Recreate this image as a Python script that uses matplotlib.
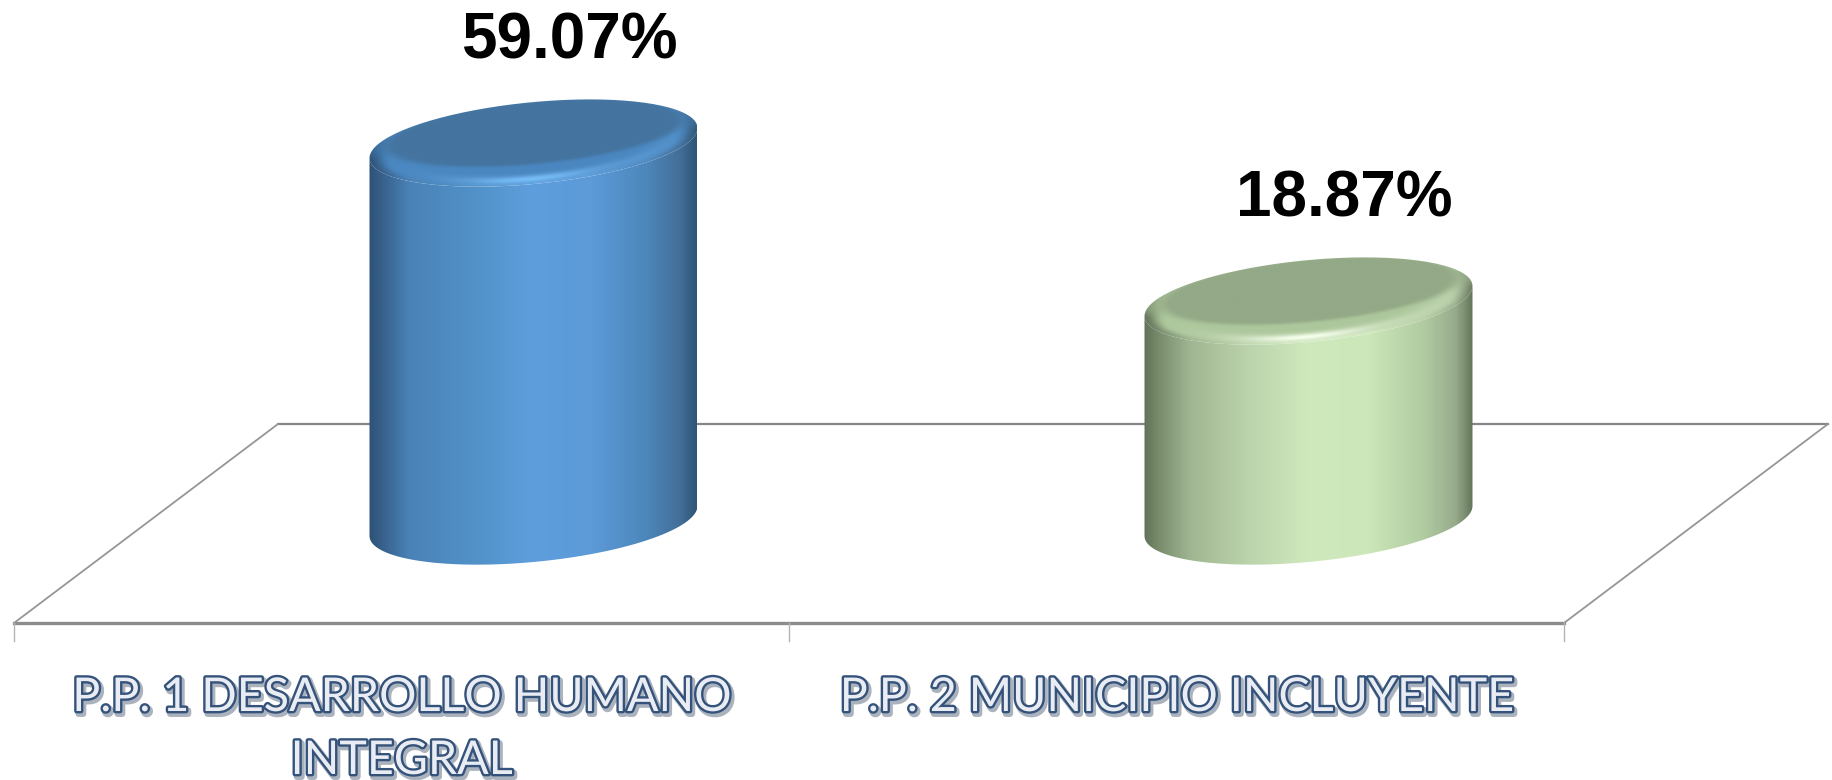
import numpy as np
import matplotlib
matplotlib.use('Agg')
import matplotlib.pyplot as plt
import matplotlib.patheffects as pe
from matplotlib.path import Path
from matplotlib.patches import PathPatch
from matplotlib.colors import LinearSegmentedColormap, to_rgb

# Data
categories = ['P.P. 1 DESARROLLO HUMANO\nINTEGRAL', 'P.P. 2 MUNICIPIO INCLUYENTE']
values = [59.07, 18.87]
value_labels = ['59.07%', '18.87%']

# Styles
side_colors = [
    [(0, '#2f5378'), (0.04, '#38618c'), (0.12, '#4a82b6'), (0.3, '#5090c6'), (0.5, '#5e9edd'),
     (0.68, '#5c9ad8'), (0.85, '#4c86ba'), (0.95, '#436f99'), (1, '#305677')],
    [(0, '#62745a'), (0.05, '#7c9070'), (0.14, '#a0b692'), (0.32, '#bcd4ac'), (0.5, '#cfe9bd'),
     (0.68, '#cce7b9'), (0.85, '#b2cca2'), (0.95, '#96ab8b'), (1, '#66785c')],
]
top_colors = ['#44749f', '#93a987']
rim_colors = ['#4a86bf', '#adc79c']
glow_colors = ['#78bdf8', '#f6ffec']

# Scales of the picture: pixels per unit on each axis
fig_w, fig_h = 1833, 780
px_x = 775.0
px_y = 3.93
left_px = 14
base_px = 521
base_value = -37.1
depth_x = 264 / px_x
half_w = 164 / px_x
shear = 15 / px_y
half_h = 41 / px_y


def ellipse_xy(cx, cy, a, b, s, t):
    return cx + a * np.cos(t), cy + b * np.sin(t) + s * np.cos(t)


def smooth(x):
    x = np.clip(x, 0, 1)
    return x * x * (3 - 2 * x)


fig = plt.figure(figsize=(fig_w / 100, fig_h / 100), dpi=100)
ax = fig.add_axes([0, 0, 1, 1])
xlim = (-left_px / px_x, (fig_w - left_px) / px_x)
ylim = (base_value - (fig_h - base_px) / px_y, base_value + base_px / px_y)

# Floor of the 3D plot
n = len(categories)
front_y = base_value - 102 / px_y
back_y = base_value + 97 / px_y
ax.plot([0, n], [front_y, front_y], color='#8c8c8c', lw=2.4, zorder=1)
ax.plot([depth_x, n + depth_x], [back_y, back_y], color='#868686', lw=1.6, zorder=1)
ax.plot([0, depth_x], [front_y, back_y], color='#969696', lw=1.3, zorder=1)
ax.plot([n, n + depth_x], [front_y, back_y], color='#969696', lw=1.3, zorder=1)
for i in range(n + 1):
    ax.plot([i, i], [front_y, front_y - 18 / px_y], color='#b4b4b4', lw=1, zorder=1)

# Cylinders
for i, v in enumerate(values):
    cx = i + 0.5 + depth_x / 2
    cmap = LinearSegmentedColormap.from_list('side', side_colors[i])

    # side face: front half of the base ellipse and back half of the top one
    t = np.linspace(np.pi, 2 * np.pi, 80)
    bx, by = ellipse_xy(cx, base_value, half_w, half_h, shear, t)
    tx, ty = ellipse_xy(cx, v, half_w, half_h, shear, t[::-1])
    verts = np.vstack([np.column_stack([bx, by]), np.column_stack([tx, ty]), [[bx[0], by[0]]]])
    codes = [Path.MOVETO] + [Path.LINETO] * (len(verts) - 2) + [Path.CLOSEPOLY]
    clip = PathPatch(Path(verts, codes), fc='none', ec='none', transform=ax.transData)
    ax.add_patch(clip)
    grad = np.linspace(0, 1, 400).reshape(1, -1)
    im = ax.imshow(grad, cmap=cmap, aspect='auto', zorder=2, interpolation='bilinear',
                   extent=(cx - half_w, cx + half_w, base_value - 30, v + 30))
    im.set_clip_path(clip)

    # top face with a soft rim
    t = np.linspace(0, 2 * np.pi, 160)
    ox, oy = ellipse_xy(cx, v, half_w, half_h, shear, t)
    top_clip = PathPatch(Path(np.column_stack([ox, oy])), fc='none', ec='none', transform=ax.transData)
    ax.add_patch(top_clip)
    gx = np.linspace(cx - half_w, cx + half_w, 500)
    gy = np.linspace(v - 13, v + 13, 300)
    X, Y = np.meshgrid(gx, gy)
    u = (X - cx) / half_w
    w = (Y - v - shear * u) / half_h
    r = np.sqrt(u ** 2 + w ** 2)
    # inner disc, pushed back and up
    a_in = half_w * 0.91
    b_in = half_h * 0.76
    cx_in = cx + half_w * 0.01
    cy_in = v + 10 / px_y
    u2 = (X - cx_in) / a_in
    w2 = (Y - cy_in - shear * 0.9 * u2) / b_in
    r2 = np.sqrt(u2 ** 2 + w2 ** 2)
    inner = 1 - smooth((r2 - 0.92) / 0.16)
    glow = np.exp(-((u + 0.02) / 0.42) ** 2) * np.exp(-((r - 0.88) / 0.09) ** 2) * smooth((0.3 - w) / 0.3)
    glow2 = 0.2 * np.exp(-((u - 0.7) / 0.3) ** 2) * np.exp(-((r - 0.9) / 0.1) ** 2)
    edge = smooth((np.abs(u) - 0.85) / 0.15)[..., None]
    rgb = np.array(to_rgb(rim_colors[i]))[None, None, :] * (1 - 0.22 * edge)
    # the rim melts into the side face at its front edge
    side_rgb = cmap((u + 1) / 2)[..., :3]
    melt = (smooth((r - 0.9) / 0.1) * smooth((0.2 - w) / 0.3))[..., None]
    rgb = rgb * (1 - melt) + side_rgb * melt
    glow_mix = np.clip(glow + glow2, 0, 1)[..., None]
    rgb = rgb * (1 - glow_mix) + np.array(to_rgb(glow_colors[i])) * glow_mix
    inner = inner[..., None]
    rgb = rgb * (1 - inner) + np.array(to_rgb(top_colors[i])) * inner
    im2 = ax.imshow(rgb, origin='lower', aspect='auto', zorder=3, interpolation='bilinear',
                    extent=(gx[0], gx[-1], gy[0], gy[-1]))
    im2.set_clip_path(top_clip)

    ax.text(cx + 36 / px_x, v + 85 / px_y, value_labels[i], ha='center', va='baseline',
            fontsize=46, fontweight='bold', family='Liberation Sans', color='black', zorder=5)

# Category labels with outlined letters
outline = [
    pe.Stroke(linewidth=4.6, foreground='#aab2be', offset=(1.5, -2)),
    pe.Stroke(linewidth=3.4, foreground='#34527a'),
    pe.Normal(),
]
for i, name in enumerate(categories):
    for j, line in enumerate(name.split('\n')):
        ax.text(i + 0.5, front_y - (88 + 63 * j) / px_y, line, ha='center', va='baseline',
                fontsize=33.6, fontweight='normal', family='Lato', color='#e9edf3',
                path_effects=outline, zorder=5)

ax.set_xlim(xlim)
ax.set_ylim(ylim)
ax.axis('off')
fig.savefig('out.png', dpi=100, facecolor='white')
